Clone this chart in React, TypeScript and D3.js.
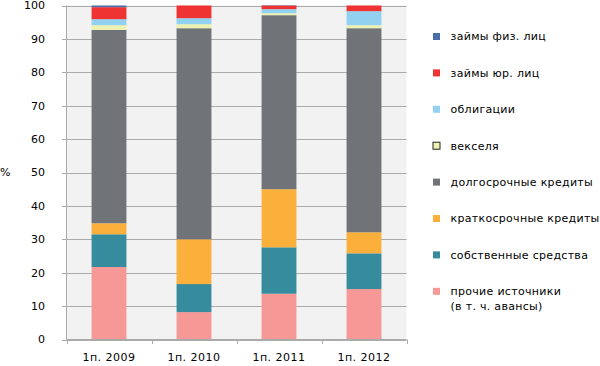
import React from "react";
import * as d3 from "d3";

const categories = ["1п. 2009", "1п. 2010", "1п. 2011", "1п. 2012"];
const seriesNames = [
  "прочие источники\n(в т. ч. авансы)",
  "собственные средства",
  "краткосрочные кредиты",
  "долгосрочные кредиты",
  "векселя",
  "облигации",
  "займы юр. лиц",
  "займы физ. лиц",
];
const seriesColors = ["#f59896", "#368b9c", "#fbb03b", "#707478", "#eef2b0", "#92d1f0", "#ef3333", "#4a6ea8"];
const prochie = [21.7, 8.2, 13.7, 15.1];
const sobstv = [9.8, 8.4, 13.9, 10.7];
const kratko = [3.3, 13.4, 17.4, 6.3];
const dolgo = [57.9, 63.2, 52.1, 61.1];
const veksel = [1.4, 1.2, 0.6, 0.9];
const obligacii = [1.8, 1.8, 1.2, 4.2];
const zaimyUr = [3.6, 3.8, 1.1, 1.7];
const zaimyFiz = [0.5, 0.0, 0.1, 0.0];
const yTicks = [0, 10, 20, 30, 40, 50, 60, 70, 80, 90, 100];

const W = 600, H = 366;
const left = 66.5, right = 406.5, top = 5.5, bottom = 339.5;
const FONT = "DejaVu Sans, Verdana, sans-serif";

export default function App() {
  const series = [prochie, sobstv, kratko, dolgo, veksel, obligacii, zaimyUr, zaimyFiz];
  const data = categories.map((c, i) => {
    const o: any = { cat: c };
    series.forEach((s, k) => (o["s" + k] = s[i]));
    return o;
  });
  const keys = series.map((_, k) => "s" + k);
  const stacked = d3.stack().keys(keys)(data);
  const x = d3.scaleBand().domain(categories).range([left, right]).paddingInner(0.59).paddingOuter(0.295);
  const xOuter = d3.scaleBand().domain(categories).range([left, right]);
  const y = d3.scaleLinear().domain([0, 100]).range([bottom, top]);

  const legendOrder = [7, 6, 5, 4, 3, 2, 1, 0];
  const legY = (i: number) => 36.5 + i * 36.4;

  return (
    <svg width={W} height={H} style={{ position: "absolute", left: 0, top: 0 }} fontFamily={FONT}>
      <rect x={left} y={top} width={right - left} height={bottom - top} fill="#f2f2f2" />
      {yTicks.map((t) => (
        <g key={t}>
          <line x1={left - 4.5} x2={right} y1={Math.round(y(t)) + 0.5} y2={Math.round(y(t)) + 0.5} stroke="#aaaaaa" strokeWidth={1} />
          <text x={45} y={y(t)} dy="0.35em" textAnchor="end" fontSize={11} fill="#000">{t}</text>
        </g>
      ))}
      <line x1={left} x2={left} y1={top} y2={bottom} stroke="#aaaaaa" />
      {stacked.map((layer, k) => (
        <g key={k} fill={seriesColors[k]}>
          {layer.map((d, i) => (
            <rect key={i} x={x(categories[i])} width={x.bandwidth()} y={y(d[1])} height={Math.max(0, y(d[0]) - y(d[1]))} />
          ))}
        </g>
      ))}
      <line x1={left} x2={right} y1={bottom} y2={bottom} stroke="#aaaaaa" />
      {[...categories.map((c) => xOuter(c) as number), right].map((v, i) => (
        <line key={i} x1={Math.round(v) + 0.5} x2={Math.round(v) + 0.5} y1={bottom} y2={bottom + 4.5} stroke="#aaaaaa" />
      ))}
      {categories.map((c) => (
        <text key={c} x={(xOuter(c) as number) + xOuter.bandwidth() / 2} y={357} dy="0.35em" textAnchor="middle" fontSize={11} letterSpacing={0.5}>{c}</text>
      ))}
      <text x={0} y={y(50)} dy="0.35em" fontSize={11}>%</text>
      {legendOrder.map((k, i) => {
        const lines = seriesNames[k].split("\n");
        return (
          <g key={k}>
            <rect x={433} y={legY(i) - 3.5} width={7} height={7} fill={seriesColors[k]} stroke={k === 4 ? "#222" : "none"} strokeWidth={1} />
            {lines.map((ln, j) => (
              <text key={j} x={450.5} y={legY(i) + j * 15} dy="0.35em" fontSize={11} letterSpacing={0.3}>{ln}</text>
            ))}
          </g>
        );
      })}
    </svg>
  );
}
